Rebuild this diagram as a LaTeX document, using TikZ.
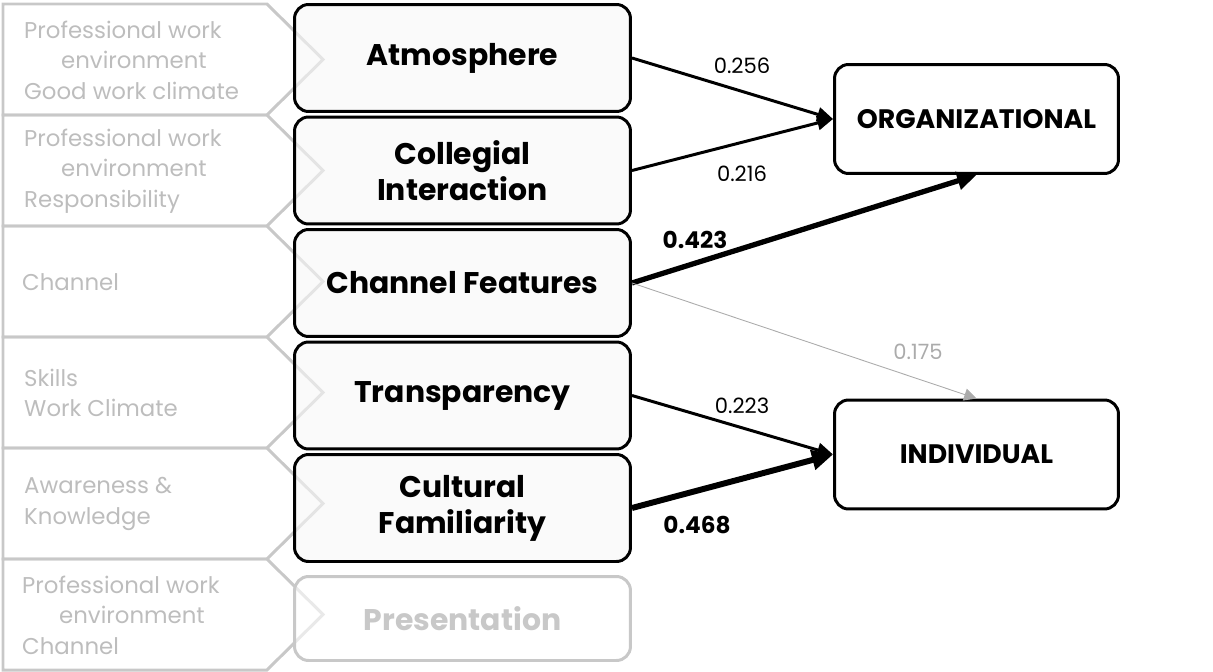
\documentclass[tikz,border=0pt]{standalone}
\usepackage{fontspec}
\setmainfont{Poppins}
\usepackage{xcolor}
\usetikzlibrary{arrows.meta}
\definecolor{chevgray}{HTML}{C8C8C8}
\definecolor{softgray}{HTML}{BDBDBD}
\definecolor{pathgray}{HTML}{ABABAB}
\tikzset{
  factor/.style = {draw, line width=1.7pt, rounded corners=8pt,
    fill=black!3, fill opacity=0.6, text opacity=1,
    minimum width=6.72cm, minimum height=2.14cm, align=center,
    font=\bfseries\fontsize{17}{20.5}\selectfont}
}
\tikzset{
  unused/.style = {draw=chevgray, text=chevgray, fill=white,
    minimum height=1.68cm}
}
\tikzset{
  outcome/.style = {draw, line width=1.7pt, rounded corners=8pt,
    minimum width=5.68cm, minimum height=2.18cm,
    font=\bfseries\fontsize{15.2}{18}\selectfont}
}
\tikzset{
  sourcetext/.style = {anchor=west, align=left, text=softgray,
    font=\fontsize{13}{17.4}\selectfont}
}
\tikzset{
  weight/.style = {font=\fontsize{12}{14}\selectfont},
  strong weight/.style = {font=\bfseries\fontsize{13.2}{15}\selectfont}
}
\tikzset{
  >={Triangle[length=9pt, width=8pt]}
}
\newcommand{\drawchevron}[1]{
  \draw[chevgray, line width=1.7pt, line join=miter]
    (3,{4+111*#1}) -- (267,{4+111*#1}) -- (323,{59.5+111*#1})
    -- (267,{115+111*#1}) -- (3,{115+111*#1}) -- cycle;
}

\begin{document}
\begin{tikzpicture}[x=0.02cm, y=-0.02cm]
  \useasboundingbox (0,0) rectangle (1213,672);

  \foreach \i in {0,...,5}
    {\drawchevron{\i}}

  \node[sourcetext] (src1) at (18,60) {Professional work\\\hspace*{0.74cm}environment\\Good work climate};
  \node[sourcetext] (src2) at (18,171) {Professional work\\\hspace*{0.74cm}environment\\Responsibility};
  \node[sourcetext] (src3) at (16,282) {Channel};
  \node[sourcetext] (src4) at (18,393) {Skills\\Work Climate};
  \node[sourcetext] (src5) at (18,504) {Awareness \&\\Knowledge};
  \node[sourcetext] (src6) at (16,615) {Professional work\\\hspace*{0.74cm}environment\\Channel};

  \node[factor] (atmo) at (462.5,58) {Atmosphere};
  \node[factor] (colleg) at (462.5,170.5) {Collegial\\Interaction};
  \node[factor] (chan) at (462.5,283) {Channel Features};
  \node[factor] (transp) at (462.5,395.5) {Transparency};
  \node[factor] (cult) at (462.5,508) {Cultural\\Familiarity};
  \node[factor, unused] (pres) at (462.5,618.5) {Presentation};

  \node[outcome] (org) at (976.5,119) {ORGANIZATIONAL};
  \node[outcome] (indiv) at (976.5,454.5) {INDIVIDUAL};

  \draw[->, line width=1.7pt] (atmo.east) -- (org.west);
  \draw[->, line width=1.7pt] (colleg.east) -- (org.west);
  \draw[->, line width=3pt, >={Triangle[length=11pt, width=10pt]}] (chan.east) -- (org.south);
  \draw[->, pathgray, line width=0.5pt, >={Triangle[length=7pt, width=7pt]}] (chan.east) -- (indiv.north);
  \draw[->, line width=1.7pt] (transp.east) -- (indiv.west);
  \draw[->, line width=3.4pt, >={Triangle[length=12pt, width=11pt]}] (cult.east) -- (indiv.west);

  \node[weight] (w1) at (742,66) {0.256};
  \node[weight] (w2) at (742,174) {0.216};
  \node[strong weight] (w3) at (695,240) {0.423};
  \node[weight, text=pathgray] (w4) at (918,352) {0.175};
  \node[weight] (w5) at (742,406) {0.223};
  \node[strong weight] (w6) at (697,525) {0.468};
\end{tikzpicture}
\end{document}
